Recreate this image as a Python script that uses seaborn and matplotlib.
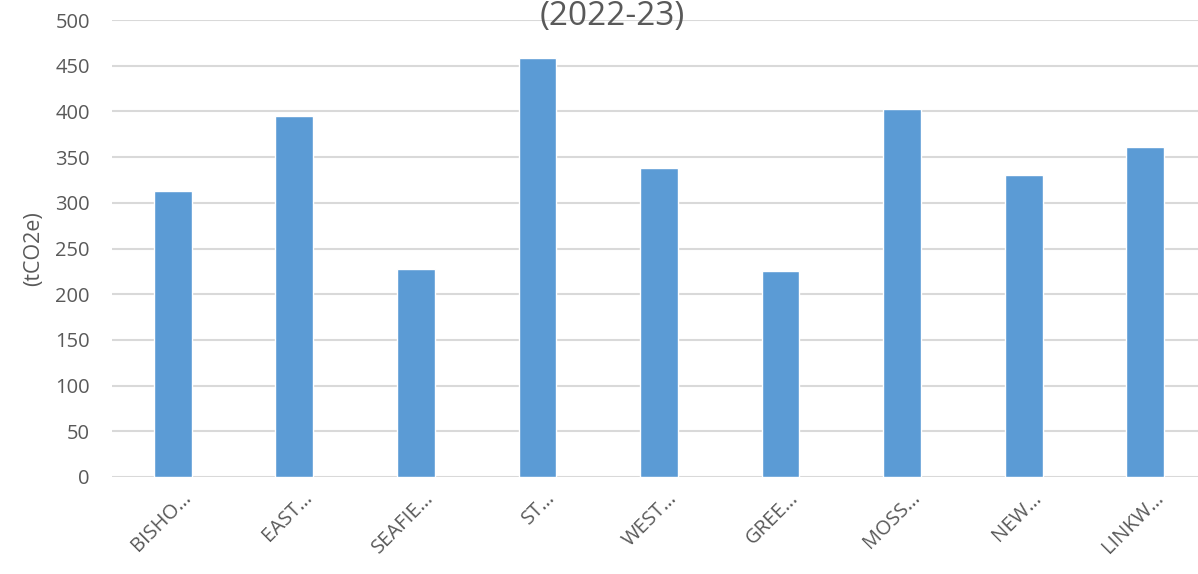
import matplotlib
matplotlib.use("Agg")
import matplotlib.pyplot as plt
import matplotlib.transforms as mtransforms
import seaborn as sns
import pandas as pd

categories = ["BISHO…", "EAST…", "SEAFIE…", "ST…", "WEST…", "GREE…", "MOSS…", "NEW…", "LINKW…"]
values = [313, 395, 228, 458, 338, 225, 403, 330, 361]
yticks = [0, 50, 100, 150, 200, 250, 300, 350, 400, 450, 500]

sns.set_theme(style="white")
plt.rcParams['font.family'] = ['Open Sans', 'DejaVu Sans']

df = pd.DataFrame({"site": categories, "tco2e": values})

fig = plt.figure(figsize=(11.98, 5.74), dpi=100)
ax = fig.add_axes([112/1198, 97/574, (1206-112)/1198, (477-20)/574])

sns.barplot(data=df, x="site", y="tco2e", color="#5B9BD5", width=0.31,
            saturation=1, ax=ax, zorder=3)

ax.set_ylim(0, 500)
ax.set_xlim(-0.5, len(categories) - 0.5)
ax.set_yticks(yticks)
ax.set_yticklabels([str(t) for t in yticks], fontsize=14.5, color="#595959")
ax.yaxis.grid(True, color="#d9d9d9", linewidth=1.5, zorder=0)
ax.set_axisbelow(True)
for s in ax.spines.values():
    s.set_visible(False)
ax.tick_params(axis="y", length=0, pad=16)
ax.tick_params(axis="x", length=0, pad=0)
ax.set_xlabel("")
ax.set_ylabel("(tCO2e)", fontsize=15.5, color="#595959")
ax.yaxis.set_label_coords((44 - 112) / 1094, 0.5)

ax.set_xticks(range(len(categories)))
ax.set_xticklabels(categories, rotation=45, ha="right", va="center",
                   rotation_mode="anchor", fontsize=14.5, color="#595959")
offset = mtransforms.ScaledTranslation(15/100, -18/100, fig.dpi_scale_trans)
for lab in ax.get_xticklabels():
    lab.set_transform(lab.get_transform() + offset)

fig.text(612/1198, 1 - 17/574, "(2022-23)", ha="center", va="center",
         fontsize=24, color="#595959")

fig.savefig("out.png", dpi=100)
